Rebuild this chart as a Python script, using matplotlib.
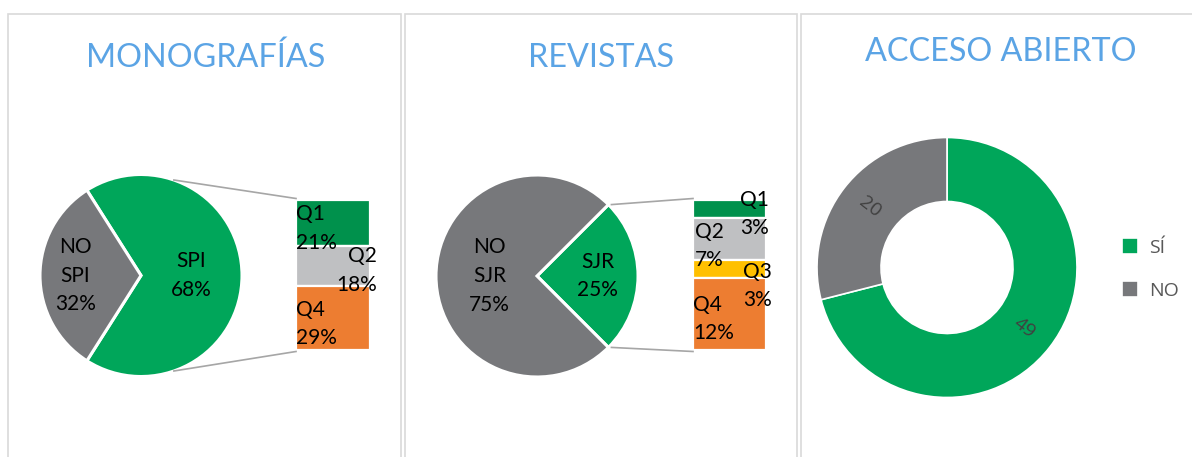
import numpy as np
import matplotlib
matplotlib.use("Agg")
import matplotlib.pyplot as plt
from matplotlib.patches import Rectangle

# --- data ---
mono_pie_names = ["SPI", "NO SPI"]
mono_pie_vals = [68, 32]
mono_q_names = ["Q1", "Q2", "Q3", "Q4"]
mono_q_vals = [21, 18, 0, 29]

rev_pie_names = ["SJR", "NO SJR"]
rev_pie_vals = [25, 75]
rev_q_names = ["Q1", "Q2", "Q3", "Q4"]
rev_q_vals = [3, 7, 3, 12]

oa_names = ["SÍ", "NO"]
oa_vals = [49, 20]

titles = ["MONOGRAFÍAS", "REVISTAS", "ACCESO ABIERTO"]

# --- style ---
GREEN = "#00A65A"
DGREEN = "#00914C"
GREY = "#77787B"
LGREY = "#BFC0C2"
YELLOW = "#FFC000"
ORANGE = "#ED7D31"
TITLE_C = "#5BA4E5"
q_colors = [DGREEN, LGREY, YELLOW, ORANGE]

W, H = 1192, 457
def Y(y):
    return H - y

fig = plt.figure(figsize=(W / 100, H / 100), dpi=100)
ax = fig.add_axes([0, 0, 1, 1])

# panel frames
for x0, x1 in [(8, 401), (404.5, 797), (801, 1260)]:
    ax.add_patch(Rectangle((x0, -50), x1 - x0, Y(14) + 50, fill=False,
                           edgecolor="#D9D9D9", linewidth=1.2))

# titles
for (tx, ty), t in zip([(206, 58), (601, 58), (1001, 52)], titles):
    ax.text(tx, Y(ty), t, color=TITLE_C, fontsize=23.3, family="Lato",
            ha="center", va="center")

lab_kw = dict(family="Lato", fontsize=15, color="black", linespacing=1.55,
              va="center")


def pie_of_bar(cx, cy, r, names, vals, start, explode, lab_r,
               qnames, qvals, bar_x, bar_w, bar_top, bar_bot, q_lab, conn_ang):
    ax.pie(vals, colors=[GREEN, GREY], startangle=start, counterclock=True,
           center=(cx, Y(cy)), radius=r, explode=explode, frame=True,
           wedgeprops=dict(edgecolor="white", linewidth=2.2))
    # pie labels
    ang = start
    for n, v, lr in zip(names, vals, lab_r):
        mid = np.deg2rad(ang + v * 3.6 / 2)
        ang += v * 3.6
        ax.text(cx + lr * r * np.cos(mid), Y(cy) + lr * r * np.sin(mid),
                n.replace(" ", "\n") + "\n" + f"{v}%", ha="center", **lab_kw)
    # stacked bar
    s = (bar_bot - bar_top) / sum(qvals)
    top = Y(bar_top)
    for n, v, c, (ha, lx, dy) in zip(qnames, qvals, q_colors, q_lab):
        if v == 0:
            continue
        h = v * s
        ax.bar(bar_x + bar_w / 2, h, width=bar_w, bottom=top - h, color=c,
               edgecolor="white", linewidth=1.6)
        ax.text(lx, top - h / 2 - dy, f"{n}\n{v}%", ha=ha, **lab_kw)
        top -= h
    # connector lines
    a = np.deg2rad(conn_ang)
    ex = explode[0] * r
    for sg, by in [(1, bar_top), (-1, bar_bot)]:
        px = cx + ex + r * np.cos(a)
        py = Y(cy) + sg * r * np.sin(a)
        ax.plot([px, bar_x], [py, Y(by) + sg * 1.5], color="#A6A6A6", lw=1.2)


pie_of_bar(141, 275.5, 101, mono_pie_names, mono_pie_vals,
           -mono_pie_vals[0] * 3.6 / 2, [0, 0], [0.5, 0.65],
           mono_q_names, mono_q_vals, 296, 74, 200, 350,
           [("left", 296, 5), ("right", 377, 4), ("left", 0, 0),
            ("left", 296, 6)], 71)

pie_of_bar(537, 276, 101, rev_pie_names, rev_pie_vals,
           -rev_pie_vals[0] * 3.6 / 2, [0.03, 0], [0.6, 0.47],
           rev_q_names, rev_q_vals, 693, 73, 200, 350,
           [("right", 769, 5), ("left", 695, 7), ("right", 772, 17),
            ("left", 693, 5)], 45)

# donut
ocx, ocy, orr = 947, 267.5, 130
wedges, _ = ax.pie(oa_vals, colors=[GREEN, GREY], startangle=90,
                   counterclock=False, center=(ocx, Y(ocy)), radius=orr,
                   frame=True,
                   wedgeprops=dict(width=64, edgecolor="white", linewidth=1.2))
ang = 90
tot = sum(oa_vals)
for v in oa_vals:
    mid = ang - v / tot * 360 / 2
    ang -= v / tot * 360
    rr = orr - 64 / 2
    rot = mid
    if rot > 90:
        rot -= 180
    if rot < -90:
        rot += 180
    ax.text(ocx + rr * np.cos(np.deg2rad(mid)), Y(ocy) + rr * np.sin(np.deg2rad(mid)),
            str(v), rotation=rot, rotation_mode="anchor", ha="center", va="center",
            family="Open Sans", fontsize=14, color="#404040")

leg = ax.legend(wedges, oa_names, loc="center left",
                bbox_to_anchor=(1104 / W, Y(269) / H), frameon=False,
                handlelength=0.85, handleheight=0.85, labelspacing=1.25,
                handletextpad=0.55, prop=dict(family="Open Sans", size=14))
for t in leg.get_texts():
    t.set_color("#595959")

ax.set_xlim(0, W)
ax.set_ylim(0, H)
ax.axis("off")

fig.savefig("out.png", dpi=100)
